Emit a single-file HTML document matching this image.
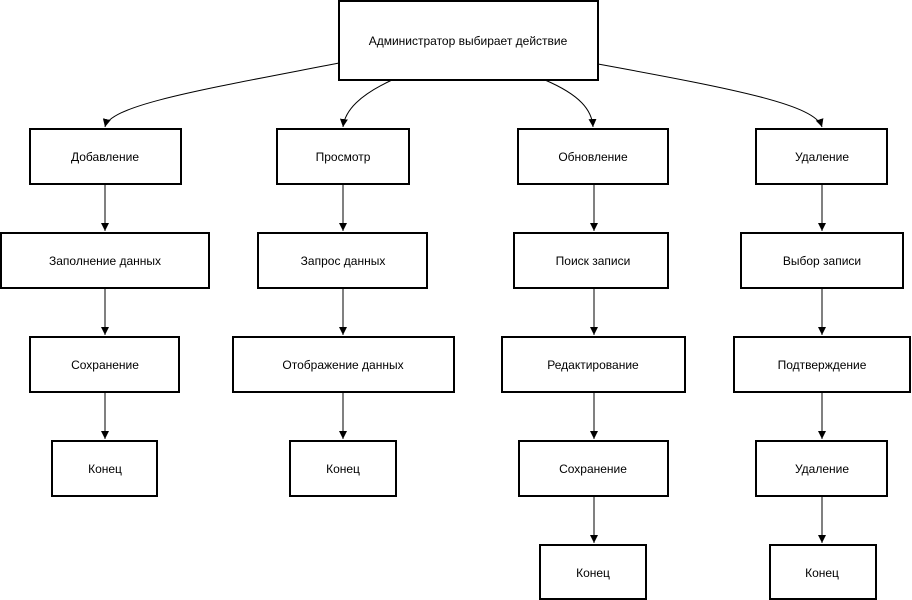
<!DOCTYPE html>
<html><head><meta charset="utf-8"><style>
html,body{margin:0;padding:0;background:#fff;}
svg{display:block}
text{font-family:"Liberation Sans",sans-serif;font-size:12px;fill:#000;text-anchor:middle;dominant-baseline:central}
rect{fill:#fff;stroke:#000;stroke-width:2}
path.l{fill:none;stroke:#000;stroke-width:1}
</style></head><body>
<svg width="912" height="600" viewBox="0 0 912 600">
<defs><marker id="a" markerWidth="10" markerHeight="10" refX="8" refY="5" orient="auto" markerUnits="userSpaceOnUse"><path d="M0,1 L8,5 L0,9 z" fill="#000"/></marker></defs>
<path class="l" d="M339,63 C200,90 110,105 105,127" marker-end="url(#a)"/>
<path class="l" d="M392,80 C360,95 345,110 343,127" marker-end="url(#a)"/>
<path class="l" d="M545,80 C580,95 592,110 593,127" marker-end="url(#a)"/>
<path class="l" d="M598,64 C740,90 815,105 822,127" marker-end="url(#a)"/>
<g>
<path class="l" d="M105,184 V231" marker-end="url(#a)"/>
<path class="l" d="M105,288 V335" marker-end="url(#a)"/>
<path class="l" d="M105,392 V439" marker-end="url(#a)"/>
<path class="l" d="M343,184 V231" marker-end="url(#a)"/>
<path class="l" d="M343,288 V335" marker-end="url(#a)"/>
<path class="l" d="M343,392 V439" marker-end="url(#a)"/>
<path class="l" d="M594,184 V231" marker-end="url(#a)"/>
<path class="l" d="M594,288 V335" marker-end="url(#a)"/>
<path class="l" d="M594,392 V439" marker-end="url(#a)"/>
<path class="l" d="M594,496 V543" marker-end="url(#a)"/>
<path class="l" d="M822,184 V231" marker-end="url(#a)"/>
<path class="l" d="M822,288 V335" marker-end="url(#a)"/>
<path class="l" d="M822,392 V439" marker-end="url(#a)"/>
<path class="l" d="M822,496 V543" marker-end="url(#a)"/>
</g>
<rect x="339" y="1" width="259" height="79"/><text x="468" y="41">Администратор выбирает действие</text>

<rect x="30" y="129" width="151" height="55"/><text x="105" y="157">Добавление</text>
<rect x="277" y="129" width="132" height="55"/><text x="343" y="157">Просмотр</text>
<rect x="518" y="129" width="150" height="55"/><text x="593" y="157">Обновление</text>
<rect x="756" y="129" width="131" height="55"/><text x="822" y="157">Удаление</text>

<rect x="1" y="233" width="208" height="55"/><text x="105" y="261">Заполнение данных</text>
<rect x="258" y="233" width="169" height="55"/><text x="343" y="261">Запрос данных</text>
<rect x="514" y="233" width="154" height="55"/><text x="593" y="261">Поиск записи</text>
<rect x="741" y="233" width="162" height="55"/><text x="822" y="261">Выбор записи</text>

<rect x="30" y="337" width="149" height="55"/><text x="105" y="365">Сохранение</text>
<rect x="233" y="337" width="221" height="55"/><text x="343" y="365">Отображение данных</text>
<rect x="502" y="337" width="183" height="55"/><text x="593" y="365">Редактирование</text>
<rect x="734" y="337" width="176" height="55"/><text x="822" y="365">Подтверждение</text>

<rect x="52" y="441" width="105" height="55"/><text x="105" y="469">Конец</text>
<rect x="290" y="441" width="106" height="55"/><text x="343" y="469">Конец</text>
<rect x="519" y="441" width="149" height="55"/><text x="593" y="469">Сохранение</text>
<rect x="756" y="441" width="131" height="55"/><text x="822" y="469">Удаление</text>

<rect x="540" y="545" width="106" height="54"/><text x="593" y="573">Конец</text>
<rect x="770" y="545" width="106" height="54"/><text x="822" y="573">Конец</text>
</svg>
</body></html>
